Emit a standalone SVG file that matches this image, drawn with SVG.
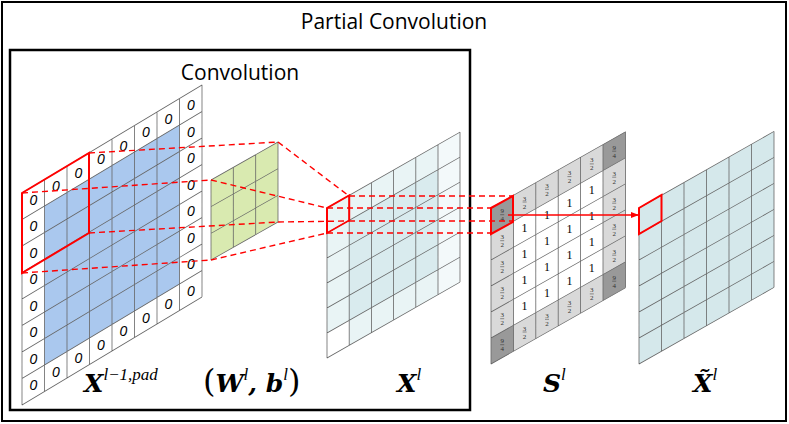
<svg xmlns="http://www.w3.org/2000/svg" width="789" height="424" viewBox="0 0 789 424">
<style>
.t{font-family:"Open Sans","Liberation Sans",sans-serif;font-size:21px;fill:#000}
.z{font-family:"Liberation Sans",sans-serif;font-style:italic;font-size:14px;text-anchor:middle;fill:#000}
.g{stroke:#666;stroke-width:0.8;fill:none}
.red{stroke:#f00;stroke-width:2;fill:none}
.dash{stroke:#f00;stroke-width:1.4;stroke-dasharray:6 4;fill:none}
.fr{font-family:"Liberation Serif",serif;font-size:7px;text-anchor:middle;fill:#333}
.one{font-family:"Liberation Serif",serif;font-size:12px;text-anchor:middle;fill:#000}
.m{font-family:"DejaVu Serif",serif;font-weight:bold;font-style:italic;font-size:25px;fill:#000}
.s{font-family:"Liberation Serif",serif;font-style:italic;font-size:17px;fill:#000}
.p{font-family:"DejaVu Serif",serif;font-size:32px;fill:#000}
</style>
<defs>
<g id="f32"><text class="fr" x="0" y="-1.5">3</text><line x1="-2" y1="0" x2="2" y2="0" stroke="#333" stroke-width="0.5"/><text class="fr" x="0" y="6.5">2</text></g>
<g id="f94"><text class="fr" x="0" y="-1.5">9</text><line x1="-2" y1="0" x2="2" y2="0" stroke="#333" stroke-width="0.5"/><text class="fr" x="0" y="6.5">4</text></g>
<marker id="ah" markerWidth="8" markerHeight="8" refX="7" refY="4" orient="auto" markerUnits="userSpaceOnUse"><path d="M0,1 L8,4 L0,7 z" fill="#f00"/></marker>
</defs>
<rect x="2" y="2" width="784" height="419" fill="#fff" stroke="#000" stroke-width="2"/>
<text class="t" x="394" y="29" text-anchor="middle">Partial Convolution</text>
<rect x="10" y="50" width="460" height="360" fill="none" stroke="#000" stroke-width="2.5"/>
<text class="t" x="240" y="80" text-anchor="middle">Convolution</text>

<g id="xpad">
<g transform="translate(22,193) skewY(-30.96)">
<rect x="0" y="0" width="180" height="212" fill="#fff"/>
<rect x="22.5" y="26.5" width="135" height="159" fill="#aac8ee"/>
<path class="g" d="M0,0V212M22.5,0V212M45,0V212M67.5,0V212M90,0V212M112.5,0V212M135,0V212M157.5,0V212M180,0V212M0,0H180M0,26.5H180M0,53H180M0,79.5H180M0,106H180M0,132.5H180M0,159H180M0,185.5H180M0,212H180"/>
</g>
<g>
<text class="z" x="33.3" y="204.5">0</text><text class="z" x="55.8" y="191">0</text><text class="z" x="78.3" y="177.5">0</text><text class="z" x="100.8" y="164">0</text><text class="z" x="123.3" y="150.5">0</text><text class="z" x="145.8" y="137">0</text><text class="z" x="168.3" y="123.5">0</text><text class="z" x="190.8" y="110">0</text>
<text class="z" x="33.3" y="390">0</text><text class="z" x="55.8" y="376.5">0</text><text class="z" x="78.3" y="363">0</text><text class="z" x="100.8" y="349.5">0</text><text class="z" x="123.3" y="336">0</text><text class="z" x="145.8" y="322.5">0</text><text class="z" x="168.3" y="309">0</text><text class="z" x="190.8" y="295.5">0</text>
<text class="z" x="33.3" y="231">0</text><text class="z" x="33.3" y="257.5">0</text><text class="z" x="33.3" y="284">0</text><text class="z" x="33.3" y="310.5">0</text><text class="z" x="33.3" y="337">0</text><text class="z" x="33.3" y="363.5">0</text>
<text class="z" x="190.8" y="136.5">0</text><text class="z" x="190.8" y="163">0</text><text class="z" x="190.8" y="189.5">0</text><text class="z" x="190.8" y="216">0</text><text class="z" x="190.8" y="242.5">0</text><text class="z" x="190.8" y="269">0</text>
</g>
<path class="red" d="M22,193L89,153L89,233L22,273Z"/>
</g>

<g id="kernel">
<g transform="translate(211,180) skewY(-29.55)">
<rect x="0" y="0" width="67" height="80" fill="#d9eab0"/>
<path class="g" d="M0,0V80M22.3,0V80M44.7,0V80M67,0V80M0,0H67M0,26.7H67M0,53.3H67M0,80H67"/>
</g>
</g>

<g id="xl">
<g transform="translate(327,208) skewY(-29.68)">
<rect x="0" y="0" width="133" height="150" fill="#e9f4f5"/>
<rect x="22.2" y="25" width="88.8" height="100" fill="#d9ebee"/>
<rect x="111" y="0" width="22" height="150" fill="#f3f9fa"/>
<rect x="0" y="125" width="22.2" height="25" fill="#fff"/>
<path class="g" d="M0,0V150M22.2,0V150M44.4,0V150M66.6,0V150M88.8,0V150M111,0V150M133,0V150M0,0H133M0,25H133M0,50H133M0,75H133M0,100H133M0,125H133M0,150H133"/>
<rect x="0" y="0" width="22.2" height="25" class="red"/>
</g>
</g>

<g id="sl">
<g transform="translate(491,208) skewY(-29.55)">
<rect x="0" y="0" width="134.4" height="156" fill="#d9d9d9"/>
<rect x="22.4" y="26" width="89.6" height="104" fill="#fff"/>
<rect x="0" y="0" width="22.4" height="26" fill="#999"/>
<rect x="112" y="0" width="22.4" height="26" fill="#999"/>
<rect x="0" y="130" width="22.4" height="26" fill="#999"/>
<rect x="112" y="130" width="22.4" height="26" fill="#999"/>
<path class="g" d="M0,0V156M22.4,0V156M44.8,0V156M67.2,0V156M89.6,0V156M112,0V156M134.4,0V156M0,0H134.4M0,26H134.4M0,52H134.4M0,78H134.4M0,104H134.4M0,130H134.4M0,156H134.4"/>
</g>
<use href="#f94" x="502.2" y="214.7"/><use href="#f32" x="524.6" y="202"/><use href="#f32" x="547" y="189.3"/><use href="#f32" x="569.4" y="176.6"/><use href="#f32" x="591.8" y="163.9"/><use href="#f94" x="614.2" y="151.2"/>
<use href="#f94" x="502.2" y="344.7"/><use href="#f32" x="524.6" y="332"/><use href="#f32" x="547" y="319.3"/><use href="#f32" x="569.4" y="306.6"/><use href="#f32" x="591.8" y="293.9"/><use href="#f94" x="614.2" y="281.2"/>
<use href="#f32" x="502.2" y="240.7"/><use href="#f32" x="502.2" y="266.7"/><use href="#f32" x="502.2" y="292.7"/><use href="#f32" x="502.2" y="318.7"/>
<use href="#f32" x="614.2" y="177.2"/><use href="#f32" x="614.2" y="203.2"/><use href="#f32" x="614.2" y="229.2"/><use href="#f32" x="614.2" y="255.2"/>
<text class="one" x="524.6" y="232">1</text><text class="one" x="524.6" y="258">1</text><text class="one" x="524.6" y="284">1</text><text class="one" x="524.6" y="310">1</text>
<text class="one" x="547" y="219.3">1</text><text class="one" x="547" y="245.3">1</text><text class="one" x="547" y="271.3">1</text><text class="one" x="547" y="297.3">1</text>
<text class="one" x="569.4" y="206.6">1</text><text class="one" x="569.4" y="232.6">1</text><text class="one" x="569.4" y="258.6">1</text><text class="one" x="569.4" y="284.6">1</text>
<text class="one" x="591.8" y="193.9">1</text><text class="one" x="591.8" y="219.9">1</text><text class="one" x="591.8" y="245.9">1</text><text class="one" x="591.8" y="271.9">1</text>
<path class="red" d="M491,208L513,196L513,222L491,234Z"/>
</g>

<g id="xt">
<g transform="translate(639,208) skewY(-29.55)">
<rect x="0" y="0" width="135" height="156" fill="#d5e8eb"/>
<path class="g" stroke="#555" d="M0,0V156M22.5,0V156M45,0V156M67.5,0V156M90,0V156M112.5,0V156M135,0V156M0,0H135M0,26H135M0,52H135M0,78H135M0,104H135M0,130H135M0,156H135"/>
</g>
<path class="red" d="M639,208L661.5,195L661.5,221L639,234Z"/>
</g>

<g id="connectors">
<path class="dash" d="M89,153L278,142M22,193L211,180M89,233L278,222M22,273L211,260"/>
<path class="dash" d="M278,142L349,196M211,180L327,208M278,222L349,221M211,260L327,233"/>
<path class="dash" d="M349,196H513M327,208H491M349,221H513M327,233H491"/>
<line x1="508" y1="215" x2="638" y2="215" stroke="#f00" stroke-width="1.5" marker-end="url(#ah)"/>
</g>

<g id="labels">
<text x="84" y="392"><tspan class="m">X</tspan><tspan class="s" dy="-12">l−1,pad</tspan></text>
<text x="203" y="392"><tspan class="p">(</tspan><tspan class="m">W</tspan><tspan class="s" dy="-12">l</tspan><tspan class="m" dy="12">, b</tspan><tspan class="s" dy="-12">l</tspan><tspan class="p" dy="12">)</tspan></text>
<text x="397" y="392"><tspan class="m">X</tspan><tspan class="s" dy="-12">l</tspan></text>
<text x="543" y="392"><tspan class="m">S</tspan><tspan class="s" dy="-12">l</tspan></text>
<text x="693" y="392"><tspan class="m">X̃</tspan><tspan class="s" dy="-12">l</tspan></text>
</g>
</svg>
